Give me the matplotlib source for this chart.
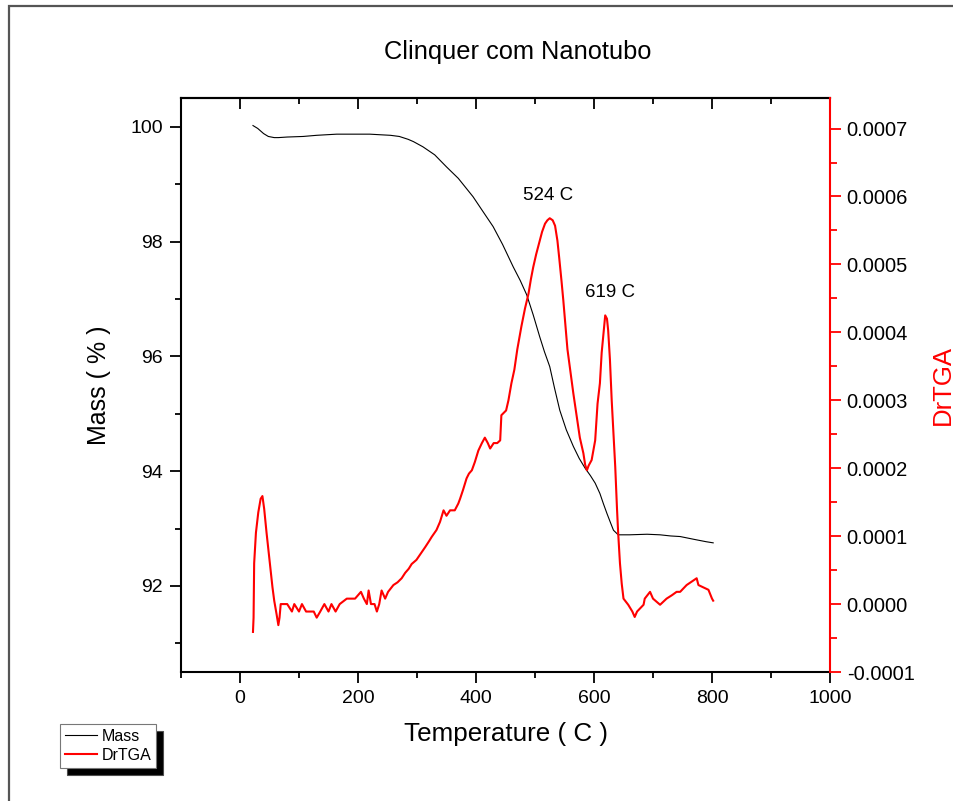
import matplotlib
matplotlib.use("Agg")
import matplotlib.pyplot as plt
from matplotlib.ticker import MultipleLocator, FormatStrFormatter
from matplotlib.lines import Line2D

plt.rcParams['font.family'] = ['Liberation Sans', 'DejaVu Sans']

# ---- data ----
mass_T = [22, 30, 40, 48, 58, 65, 80, 107, 130, 164, 190, 220, 237, 255, 270, 285, 294,
          310, 330, 350, 370, 395, 410, 429, 445, 463, 475, 486, 497, 508, 516, 525, 533,
          542, 553, 565, 575, 585, 594, 602, 610, 616, 622, 628, 633, 641, 660, 690, 712,
          730, 746, 770, 790, 802]
mass_pct = [100.02, 99.97, 99.88, 99.83, 99.81, 99.81, 99.82, 99.83, 99.85, 99.87, 99.87,
            99.87, 99.86, 99.85, 99.83, 99.78, 99.74, 99.65, 99.51, 99.30, 99.10, 98.78,
            98.55, 98.26, 97.95, 97.56, 97.32, 97.07, 96.72, 96.34, 96.08, 95.82, 95.45,
            95.06, 94.72, 94.43, 94.22, 94.05, 93.92, 93.79, 93.61, 93.43, 93.26, 93.10,
            92.97, 92.89, 92.89, 92.90, 92.89, 92.87, 92.86, 92.81, 92.77, 92.75]

dtg_T = [22, 23, 24, 27, 31, 35, 38, 41, 45, 50, 55, 58, 62, 65, 67, 69, 80, 88, 92, 100, 105,
         112, 119, 125, 130, 136, 143, 150, 155, 162, 169, 181, 195, 205, 210, 215, 218,
         222, 228, 232, 236, 240, 246, 251, 260, 267, 274, 280, 286, 291, 299, 307, 314,
         320, 325, 333, 339, 345, 350, 356, 364, 370, 373, 378, 384, 388, 393, 398, 404,
         410, 415, 420, 424, 430, 436, 441, 443, 451, 455, 460, 465, 470, 477, 483, 489,
         493, 497, 502, 508, 512, 517, 521, 525, 530, 534, 538, 541, 545, 548, 552, 555,
         559, 565, 571, 576, 582, 585, 588, 591, 596, 602, 606, 610, 613, 616, 619, 622,
         624, 627, 630, 633, 636, 639, 641, 644, 647, 650, 658, 665, 669, 673, 684, 686,
         695, 700, 712, 723, 732, 740, 746, 757, 774, 777, 794, 800, 802]
dtg_val = [-0.41, -0.20, 0.60, 1.05, 1.35, 1.55, 1.59, 1.40, 1.05, 0.65, 0.25, 0.05, -0.15, -0.31,
           -0.20, 0.0, 0.0, -0.11, 0.0, -0.11, 0.0, -0.11, -0.11, -0.11, -0.20, -0.11, 0.0,
           -0.11, 0.0, -0.11, 0.0, 0.08, 0.08, 0.18, 0.08, 0.0, 0.20, 0.0, 0.0, -0.11, 0.0,
           0.20, 0.08, 0.18, 0.28, 0.32, 0.38, 0.46, 0.52, 0.59, 0.65, 0.75, 0.84, 0.92,
           0.99, 1.09, 1.21, 1.38, 1.30, 1.38, 1.38, 1.48, 1.55, 1.68, 1.85, 1.92, 1.97,
           2.09, 2.26, 2.37, 2.45, 2.37, 2.29, 2.37, 2.37, 2.41, 2.78, 2.85, 3.00, 3.25,
           3.45, 3.75, 4.09, 4.35, 4.57, 4.78, 4.96, 5.15, 5.35, 5.48, 5.60, 5.65, 5.68,
           5.65, 5.57, 5.35, 5.10, 4.75, 4.47, 4.05, 3.75, 3.49, 3.10, 2.75, 2.45, 2.22,
           2.05, 1.97, 2.04, 2.12, 2.41, 2.95, 3.25, 3.70, 3.98, 4.25, 4.20, 4.03, 3.60,
           3.00, 2.50, 2.02, 1.40, 1.04, 0.60, 0.30, 0.08, -0.01, -0.11, -0.19, -0.11,
           -0.01, 0.08, 0.18, 0.08, -0.01, 0.08, 0.13, 0.18, 0.18, 0.28, 0.38, 0.28, 0.21,
           0.08, 0.05]
dtg_val = [v * 1e-4 for v in dtg_val]

peak_labels = ["524 C", "619 C"]
peak_T = [522, 627]
peak_y = [6.01e-4, 4.59e-4]

# ---- figure ----
W, H = 954, 801
fig = plt.figure(figsize=(W / 100, H / 100), dpi=100)
fig.patch.set_facecolor('white')

# outer frame: only left and top edges are visible in the reference
fx, fy = 9.5 / W, 1 - 5.5 / H
fig.add_artist(Line2D([fx, fx, 1.0], [0.0, fy, fy], transform=fig.transFigure,
                      color='#555555', linewidth=1.6, solid_joinstyle='miter'))

ax = fig.add_axes([181 / W, 1 - 672 / H, (830 - 181) / W, (672 - 98) / H])
ax2 = ax.twinx()

l1, = ax.plot(mass_T, mass_pct, color='black', linewidth=0.8, label='Mass')
l2, = ax2.plot(dtg_T, dtg_val, color='red', linewidth=1.5, label='DrTGA')

ax.set_xlim(-100, 1000)
ax.set_ylim(90.5, 100.5)
ax2.set_ylim(-0.0001, 0.000745)

ax.xaxis.set_major_locator(MultipleLocator(200))
ax.xaxis.set_minor_locator(MultipleLocator(100))
ax.yaxis.set_major_locator(MultipleLocator(2))
ax.yaxis.set_minor_locator(MultipleLocator(1))
ax2.yaxis.set_major_locator(MultipleLocator(0.0001))
ax2.yaxis.set_minor_locator(MultipleLocator(0.00005))
ax2.yaxis.set_major_formatter(FormatStrFormatter('%.4f'))

for sp in ['left', 'bottom', 'top']:
    ax.spines[sp].set_linewidth(1.5)
ax.spines['right'].set_visible(False)
for sp in ['left', 'bottom', 'top']:
    ax2.spines[sp].set_visible(False)
ax2.spines['right'].set_color('red')
ax2.spines['right'].set_linewidth(1.5)

ax.tick_params(axis='x', which='major', direction='out', length=8, width=1.3,
               labelsize=14, pad=5)
ax.tick_params(axis='x', which='minor', direction='out', length=4, width=1.3)
ax.tick_params(axis='y', which='major', direction='out', length=8, width=1.3,
               labelsize=14, pad=5)
ax.tick_params(axis='y', which='minor', direction='out', length=4, width=1.3)
ax2.tick_params(axis='y', which='major', direction='out', length=8, width=1.3,
                color='red', labelcolor='black', labelsize=14.5, pad=4)
ax2.tick_params(axis='y', which='minor', direction='out', length=5, width=1.3, color='red')

# top axis ticks inward
axt = ax.secondary_xaxis('top')
axt.xaxis.set_major_locator(MultipleLocator(200))
axt.xaxis.set_minor_locator(MultipleLocator(100))
axt.tick_params(axis='x', which='major', direction='in', length=8, width=1.3, labeltop=False)
axt.tick_params(axis='x', which='minor', direction='in', length=4, width=1.3)
axt.spines['top'].set_linewidth(1.5)
ax.tick_params(axis='x', which='both', top=False)

ax.set_xlabel('Temperature ( C )', fontsize=18.7, labelpad=11)
ax.set_ylabel('Mass ( % )', fontsize=18, labelpad=14)
ax2.set_ylabel('DrTGA', fontsize=18.5, color='red', labelpad=12)

fig.text(518 / W, 1 - 52 / H, 'Clinquer com Nanotubo', fontsize=18.3, ha='center', va='center')

for lab, tx, ty in zip(peak_labels, peak_T, peak_y):
    ax2.text(tx, ty, lab, fontsize=13.5, ha='center', va='center')

leg = fig.legend(handles=[l1, l2], loc='upper left',
                 bbox_to_anchor=(60 / W, 1 - 724 / H), fontsize=11.5,
                 frameon=True, fancybox=False, handlelength=2.0, handletextpad=0.3,
                 borderpad=0.3, labelspacing=0.25, borderaxespad=0,
                 shadow={'ox': 5, 'oy': -5, 'facecolor': 'black', 'alpha': 1})
leg.get_frame().set_edgecolor('#777777')
leg.get_frame().set_linewidth(0.8)

fig.savefig('out.png', dpi=100, facecolor='white')
